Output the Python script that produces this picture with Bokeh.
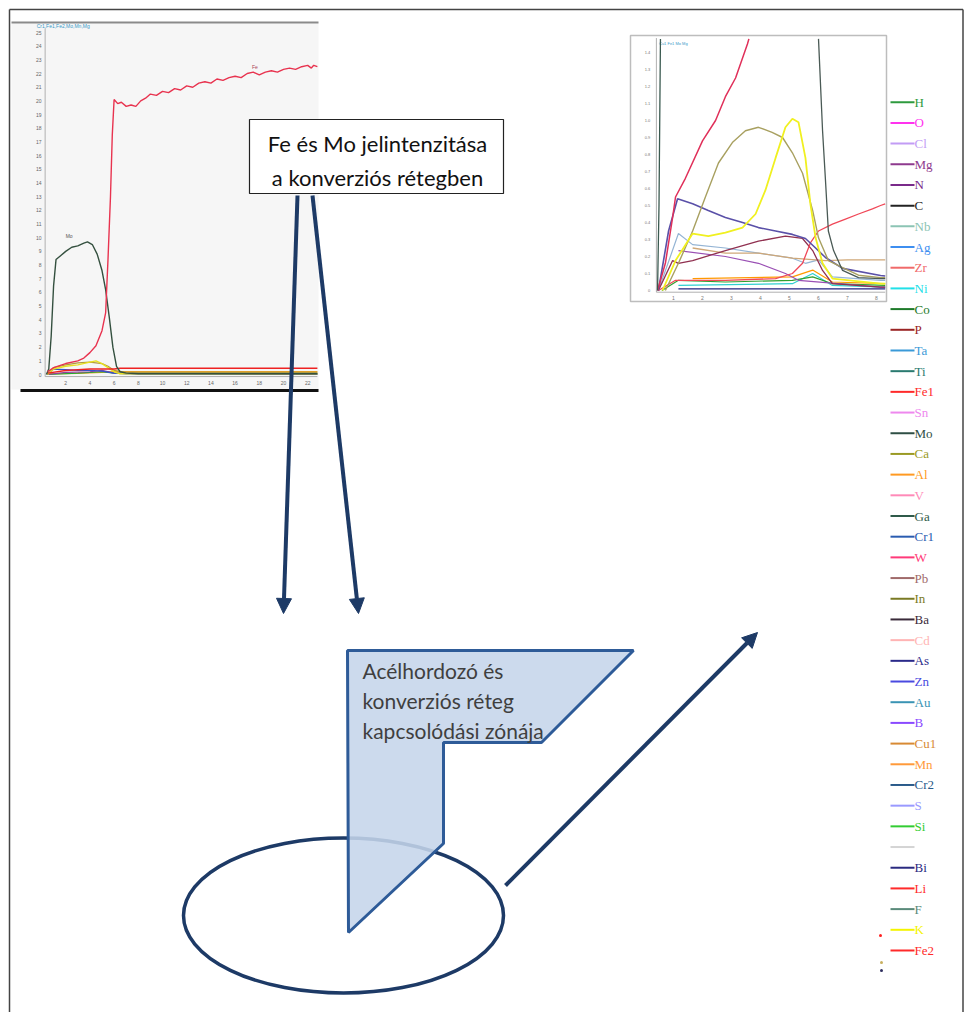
from bokeh.plotting import figure
from bokeh.models import Range1d, Arrow, NormalHead
from bokeh.core.properties import value
from bokeh.embed import file_html
from bokeh.resources import INLINE

# ---------------- data: left GDOES depth profile ----------------
left_x_ticks = [2, 4, 6, 8, 10, 12, 14, 16, 18, 20, 22]
left_y_ticks = list(range(0, 26))
left_title = "Cr1,Fe1,Fe2,Mo,Mn,Mg"

fe_x = [0.5, 1.0, 2.0, 3.0, 3.5, 4.0, 4.5, 5.0, 5.3, 5.5, 5.7, 5.85, 6.0, 6.3, 6.6, 7.0, 7.4, 7.8,
        8.2, 8.6, 9.0, 9.5, 10.0, 10.5, 11.0, 11.5, 12.0, 12.5, 13.0, 13.5, 14.0, 14.5, 15.0, 15.5,
        16.0, 16.5, 17.0, 17.5, 18.0, 18.5, 19.0, 19.5, 20.0, 20.5, 21.0, 21.5, 22.0, 22.3, 22.5, 22.8]
fe_y = [0.2, 0.5, 0.8, 1.0, 1.2, 1.6, 2.1, 3.2, 4.5, 8.5, 13.0, 17.5, 20.1, 19.8, 19.9, 19.6, 19.7, 19.6,
        20.0, 20.2, 20.5, 20.4, 20.7, 20.6, 20.9, 20.8, 21.1, 21.0, 21.3, 21.4, 21.3, 21.6, 21.5, 21.7,
        21.8, 21.7, 22.0, 22.1, 21.9, 22.1, 22.2, 22.1, 22.3, 22.4, 22.3, 22.5, 22.6, 22.4, 22.6, 22.5]
mo_x = [0.4, 0.6, 0.8, 1.0, 1.2, 1.6, 2.0, 2.5, 3.0, 3.5, 3.8, 4.2, 4.6, 5.0, 5.3, 5.6, 5.9, 6.2,
        6.5, 7.0, 8.0, 10.0, 14.0, 18.0, 22.8]
mo_y = [0.0, 0.4, 2.8, 6.5, 8.4, 8.7, 9.0, 9.3, 9.4, 9.6, 9.7, 9.5, 8.8, 7.6, 6.2, 4.2, 2.0, 0.6,
        0.2, 0.1, 0.05, 0.05, 0.05, 0.05, 0.05]
fe2_x = [0.5, 2.0, 4.0, 6.0, 6.5, 10.0, 22.8]
fe2_y = [0.1, 0.3, 0.4, 0.4, 0.45, 0.45, 0.45]
yel_x = [0.5, 1.0, 2.0, 3.0, 4.0, 4.5, 5.0, 5.5, 6.0, 6.5, 22.8]
yel_y = [0.0, 0.4, 0.6, 0.7, 0.9, 1.0, 0.8, 0.5, 0.2, 0.05, 0.05]
oli_x = [0.5, 1.0, 2.0, 3.0, 4.0, 5.0, 5.5, 6.0, 7.0, 22.8]
oli_y = [0.0, 0.5, 0.7, 0.85, 0.9, 0.8, 0.6, 0.3, 0.15, 0.15]
ora_x = [0.5, 3.0, 6.0, 22.8]
ora_y = [0.05, 0.1, 0.2, 0.2]
blu_x = [0.5, 1.0, 2.0, 3.0, 4.0, 5.0, 6.0, 7.0, 22.8]
blu_y = [0.0, 0.4, 0.35, 0.3, 0.3, 0.25, 0.1, 0.05, 0.05]
grn_x = [0.5, 3.0, 5.0, 6.0, 22.8]
grn_y = [0.0, 0.1, 0.2, 0.1, 0.05]
pur_x = [0.5, 2.0, 4.0, 5.0, 6.0, 22.8]
pur_y = [0.0, 0.15, 0.2, 0.3, 0.1, 0.02]

# ---------------- data: right GDOES depth profile (zoomed) ----------------
right_x_ticks = [1, 2, 3, 4, 5, 6, 7, 8]
right_y_ticks = list(range(0, 15))
right_y_labels = ["0", "0.1", "0.2", "0.3", "0.4", "0.5", "0.6", "0.7", "0.8", "0.9",
                  "1.0", "1.1", "1.2", "1.3", "1.4"]
right_title = "Cu1 Fe1 Mo Mg"

r_spike_x = [0.45, 0.5, 0.55]
r_spike_y = [0.0, 5.0, 14.8]
r_fall_x = [6.0, 6.14, 6.24, 6.34, 6.52, 6.83, 7.38, 8.14, 8.3]
r_fall_y = [14.8, 9.4, 6.5, 3.5, 2.35, 1.18, 0.76, 0.7, 0.7]
r_red_x = [0.45, 0.72, 0.97, 1.07, 1.41, 2.0, 2.45, 2.79, 3.14, 3.55, 3.6]
r_red_y = [0.0, 1.6, 4.3, 5.5, 6.6, 8.8, 10.0, 11.4, 12.5, 14.5, 14.8]
r_oli_x = [0.72, 1.17, 1.66, 2.1, 2.55, 3.03, 3.48, 3.93, 4.4, 4.76, 5.1, 5.45, 5.8, 6.0,
           6.34, 6.83, 7.38, 8.14, 8.3]
r_oli_y = [0.0, 1.6, 3.5, 5.5, 7.5, 8.7, 9.4, 9.6, 9.3, 9.0, 8.1, 6.9, 4.7, 3.1,
           1.76, 1.35, 0.9, 0.76, 0.76]
r_tan_x = [1.66, 2.79, 3.93, 5.1, 6.24, 7.0, 8.14, 8.3]
r_tan_y = [2.5, 2.2, 2.2, 1.9, 1.76, 1.8, 1.8, 1.8]
r_yel_x = [0.62, 1.07, 1.66, 2.2, 2.79, 3.38, 3.83, 4.17, 4.52, 4.86, 5.1, 5.31, 5.55, 5.72,
           5.9, 6.14, 6.48, 8.14, 8.3]
r_yel_y = [0.0, 1.76, 3.35, 3.2, 3.4, 3.7, 4.5, 5.9, 7.8, 9.6, 10.1, 9.9, 7.8, 5.1,
           3.1, 1.6, 0.7, 0.4, 0.4]
r_slb_x = [0.48, 0.83, 1.14, 1.66, 2.2, 2.79, 3.38, 3.93, 4.52, 5.1, 5.55, 5.9, 6.24, 6.83, 8.14, 8.3]
r_slb_y = [0.0, 3.5, 5.4, 5.1, 4.7, 4.3, 4.0, 3.7, 3.5, 3.3, 3.06, 2.5, 1.94, 1.3, 0.88, 0.85]
r_sal_x = [0.48, 1.07, 2.79, 4.52, 5.1, 5.45, 5.72, 6.0, 6.48, 6.93, 7.38, 7.86, 8.14, 8.3]
r_sal_y = [0.0, 0.6, 0.6, 0.7, 1.0, 1.6, 2.8, 3.5, 3.9, 4.2, 4.5, 4.8, 5.0, 5.1]
r_mar_x = [0.48, 0.97, 1.17, 1.66, 2.79, 3.93, 4.86, 5.45, 5.8, 6.14, 6.48, 8.14, 8.3]
r_mar_y = [0.0, 1.76, 1.6, 1.76, 2.35, 2.9, 3.2, 3.06, 2.35, 1.18, 0.4, 0.2, 0.2]
r_lbl_x = [0.48, 1.17, 1.66, 2.79, 3.93, 5.1, 5.55, 6.0, 6.48, 8.14, 8.3]
r_lbl_y = [0.0, 3.35, 2.7, 2.5, 2.2, 1.9, 1.6, 1.8, 0.8, 0.6, 0.6]
r_vio_x = [1.17, 2.79, 3.93, 4.86, 5.31, 8.14, 8.3]
r_vio_y = [2.35, 2.0, 1.6, 1.0, 0.6, 0.2, 0.2]
r_grn_x = [0.6, 1.17, 2.79, 5.1, 5.8, 6.48, 8.3]
r_grn_y = [0.0, 0.6, 0.5, 0.6, 0.8, 0.4, 0.3]
r_cya_x = [1.17, 5.1, 5.8, 6.48, 8.3]
r_cya_y = [0.3, 0.4, 1.0, 0.3, 0.2]
r_nav_x = [1.17, 8.3]
r_nav_y = [0.1, 0.1]
r_ora_x = [1.66, 5.1, 5.8, 6.48, 8.3]
r_ora_y = [0.7, 0.8, 1.2, 0.5, 0.4]

# ---------------- legend ----------------
legend_names = ["H", "O", "Cl", "Mg", "N", "C", "Nb", "Ag", "Zr", "Ni", "Co", "P", "Ta", "Ti",
                "Fe1", "Sn", "Mo", "Ca", "Al", "V", "Ga", "Cr1", "W", "Pb", "In", "Ba", "Cd",
                "As", "Zn", "Au", "B", "Cu1", "Mn", "Cr2", "S", "Si", "", "Bi", "Li", "F", "K", "Fe2"]
legend_colors = ["#2e9a3e", "#ff33ee", "#c29cf5", "#8e3a8e", "#7a2a8a", "#222222", "#8cc4b4",
                 "#3d8ef0", "#f06a6a", "#22e0e8", "#1e7a2a", "#9a2424", "#3a9ad8", "#2a7a70",
                 "#ff2a2a", "#ee88ee", "#2f4f45", "#9a9a24", "#ff9a22", "#ff8ab8", "#2f5a4a",
                 "#2a5cb0", "#ff3a7a", "#a06a6a", "#7a7a24", "#3a2a3a", "#ffb4b4", "#2a2a8a",
                 "#4a4ae0", "#3a94b4", "#8a4aff", "#d88a34", "#ff9a3a", "#2a5a8a", "#9a9aff",
                 "#33cc33", "#d4d4d4", "#2a2a80", "#ff2a2a", "#5a8a7a", "#f4f400", "#ff2a2a"]

# ---------------- annotation texts ----------------
box_lines = ["Fe és Mo jelintenzitása", "a konverziós rétegben"]
callout_lines = ["Acélhordozó és", "konverziós réteg", "kapcsolódási zónája"]

NAVY = "#1d3a66"
W, H = 966, 1012

# canvas: data coordinates equal pixel coordinates of the page
p = figure(width=W, height=H, x_range=Range1d(0, W), y_range=Range1d(H, 0),
           x_axis_type=None, y_axis_type=None, toolbar_location=None,
           output_backend="svg", min_border=0, outline_line_color=None)
p.background_fill_color = "white"
p.border_fill_color = "white"


def xr(a_px, k):
    return Range1d(start=(0 - a_px) / k, end=(W - a_px) / k)


def yr(a_px, k):
    return Range1d(start=(a_px - H) / k, end=(a_px - 0) / k)


p.extra_x_ranges = {"L": xr(41.0, 12.1), "R": xr(644.0, 29.0)}
p.extra_y_ranges = {"L": yr(374.0, 13.68), "R": yr(290.0, 17.0)}

# outer frame
p.segment(x0=[9, 9, 962.5], y0=[9, 9, 9], x1=[962.5, 9, 962.5], y1=[9, H, H],
          line_color="#444444", line_width=1.5)

# ---------- left chart ----------
p.quad(left=[11], right=[318], top=[23], bottom=[389], fill_color="#f6f6f6", line_color=None)
p.segment(x0=[11], y0=[22], x1=[318], y1=[22], line_color="#8a8a8a", line_width=2)
p.segment(x0=[20], y0=[390], x1=[318], y1=[390], line_color="#111111", line_width=3)
L = dict(x_range_name="L", y_range_name="L")
p.segment(x0=[0.3], y0=[-0.15], x1=[0.3], y1=[25.3], line_color="#b0b0b0", line_width=1, **L)
p.segment(x0=[0.3], y0=[-0.15], x1=[22.8], y1=[-0.15], line_color="#b0b0b0", line_width=1, **L)
p.text(x=[0.0] * len(left_y_ticks), y=left_y_ticks, text=[str(t) for t in left_y_ticks],
       text_font_size="5px", text_align="right", text_baseline="middle", text_color="#666666", **L)
p.text(x=left_x_ticks, y=[-0.6] * len(left_x_ticks), text=[str(t) for t in left_x_ticks],
       text_font_size="5px", text_align="center", text_baseline="middle", text_color="#666666", **L)
p.text(x=[-0.4], y=[25.5], text=[left_title], text_font_size="5px", text_color="#3a9ac8",
       text_baseline="middle", **L)

for xs, ys, c, w in [(ora_x, ora_y, "#f0a020", 1.5), (grn_x, grn_y, "#22aa33", 1.2),
                     (pur_x, pur_y, "#9040a0", 1.2), (blu_x, blu_y, "#3355cc", 1.2),
                     (oli_x, oli_y, "#b09a40", 1.2), (yel_x, yel_y, "#e8e020", 1.4),
                     (fe2_x, fe2_y, "#ee2222", 1.5), (mo_x, mo_y, "#34503f", 1.4),
                     (fe_x, fe_y, "#e8334f", 1.4)]:
    p.line(xs, ys, line_color=c, line_width=w, **L)
p.text(x=[2.0], y=[10.1], text=["Mo"], text_font_size="5px", text_color="#555555",
       text_baseline="middle", **L)
p.text(x=[17.4], y=[22.5], text=["Fe"], text_font_size="5px", text_color="#aa4455",
       text_baseline="middle", **L)

# ---------- right chart ----------
p.quad(left=[630], right=[886], top=[35], bottom=[301], fill_color="white",
       line_color="#bdbdbd", line_width=1.5)
R = dict(x_range_name="R", y_range_name="R")
p.segment(x0=[0.41], y0=[-0.1], x1=[0.41], y1=[14.85], line_color="#b0b0b0", line_width=1, **R)
p.segment(x0=[0.41], y0=[-0.1], x1=[8.3], y1=[-0.1], line_color="#b0b0b0", line_width=1, **R)
p.text(x=[0.2] * len(right_y_ticks), y=right_y_ticks, text=right_y_labels,
       text_font_size="4px", text_align="right", text_baseline="middle", text_color="#777777", **R)
p.text(x=right_x_ticks, y=[-0.45] * len(right_x_ticks), text=[str(t) for t in right_x_ticks],
       text_font_size="5px", text_align="center", text_baseline="middle", text_color="#777777", **R)
p.text(x=[0.5], y=[14.55], text=[right_title], text_font_size="4px", text_color="#3a9ac8",
       text_baseline="middle", **R)

for xs, ys, c, w in [(r_nav_x, r_nav_y, "#202080", 1.2), (r_cya_x, r_cya_y, "#30d0d0", 1.2),
                     (r_grn_x, r_grn_y, "#30a030", 1.2), (r_ora_x, r_ora_y, "#ff9900", 1.2),
                     (r_vio_x, r_vio_y, "#9a50b4", 1.2), (r_lbl_x, r_lbl_y, "#94b4d4", 1.2),
                     (r_tan_x, r_tan_y, "#d0a878", 1.3), (r_mar_x, r_mar_y, "#903050", 1.3),
                     (r_sal_x, r_sal_y, "#f04858", 1.3), (r_slb_x, r_slb_y, "#5a50a8", 1.6),
                     (r_oli_x, r_oli_y, "#a8a060", 1.4), (r_yel_x, r_yel_y, "#f0f020", 1.8),
                     (r_red_x, r_red_y, "#e0305a", 1.5), (r_spike_x, r_spike_y, "#3a5a50", 1.3),
                     (r_fall_x, r_fall_y, "#4a5a55", 1.3)]:
    p.line(xs, ys, line_color=c, line_width=w, **R)

# ---------- legend column ----------
n = len(legend_names)
ly = [101.7 + 20.69 * i for i in range(n)]
p.segment(x0=[890] * n, y0=ly, x1=[914] * n, y1=ly, line_color=legend_colors, line_width=2)
p.text(x=[914] * n, y=ly, text=legend_names, text_color=legend_colors,
       text_font=value("Liberation Serif"), text_font_size="13px", text_baseline="middle")
p.scatter(x=[880, 881, 881], y=[935, 962, 970], size=3, fill_color=["#ff2020", "#c8b060", "#303060"],
          line_color=None)

# ---------- annotation: ellipse, callout, arrows, text box ----------
p.ellipse(x=[343], y=[915], width=[320], height=[155], width_units="screen",
          height_units="screen", fill_color=None, line_color=NAVY, line_width=3.5)

p.patch(x=[347, 633, 541, 443, 443, 348], y=[650, 650, 742, 742, 843, 932],
        fill_color="#c5d5ea", fill_alpha=0.88, line_color="#2e5b98", line_width=3)
p.text(x=[362] * 3, y=[670, 700, 730], text=callout_lines, text_font=value("Lato"),
       text_font_size="21px", text_baseline="middle", text_color="#3f3f3f")

for xs, ys, xe, ye in [(297, 195, 283, 613), (312, 195, 358, 613), (505, 885, 757, 632)]:
    p.add_layout(Arrow(end=NormalHead(size=15, fill_color=NAVY, line_color=NAVY),
                       x_start=xs, y_start=ys, x_end=xe, y_end=ye,
                       line_color=NAVY, line_width=4))

p.quad(left=[249], right=[503], top=[119], bottom=[193], fill_color="white",
       line_color="#222222", line_width=1.2)
p.text(x=[377, 377], y=[143, 177], text=box_lines, text_font=value("Lato"),
       text_font_size="22px", text_align="center", text_baseline="middle", text_color="#111111")

open("out.html", "w").write(file_html(p, INLINE))
